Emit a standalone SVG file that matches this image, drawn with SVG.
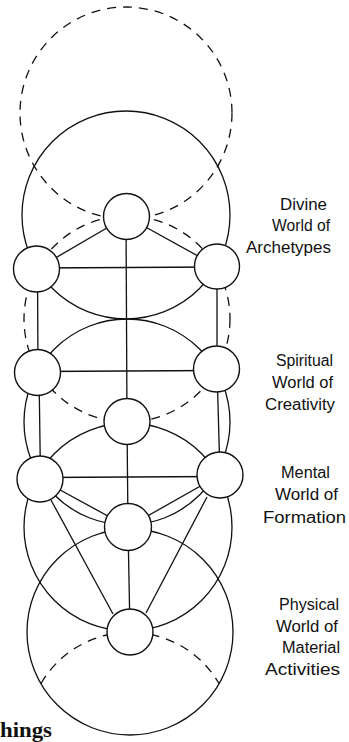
<svg xmlns="http://www.w3.org/2000/svg" width="349" height="742" viewBox="0 0 349 742">
<style>
.s{fill:none;stroke:#111;stroke-width:1.3}
.d{fill:none;stroke:#111;stroke-width:1.3;stroke-dasharray:9 7}
.n{fill:#fff;stroke:#111;stroke-width:1.4}
.l{font-family:"Liberation Sans",Arial,sans-serif;font-size:16px;fill:#111}
.t{font-family:"Liberation Serif","Times New Roman",serif;font-size:22px;font-weight:bold;fill:#111}
</style>
<rect width="349" height="742" fill="#fff"/>
<g id="world-circles">
<circle class="d" cx="126" cy="113" r="106"/>
<circle class="s" cx="126" cy="215" r="104"/>
<circle class="d" cx="127" cy="319" r="103"/>
<circle class="s" cx="127" cy="422" r="103"/>
<circle class="s" cx="128" cy="527" r="104"/>
<circle class="s" cx="130" cy="632" r="103"/>
<path class="d" d="M41,683.5 A103,103 0 0,1 219,683.5"/>
</g>
<g id="connectors" class="s">
<line x1="126.5" y1="216.5" x2="36.5" y2="269"/>
<line x1="126.5" y1="216.5" x2="217" y2="266.5"/>
<line x1="126" y1="216.5" x2="127" y2="421.5"/>
<line x1="36.5" y1="268" x2="217" y2="267"/>
<line x1="37.5" y1="269" x2="38" y2="372.5"/>
<line x1="217" y1="266.5" x2="217" y2="369"/>
<line x1="37.5" y1="371.5" x2="216.5" y2="370.5"/>
<line x1="39" y1="372.5" x2="40.5" y2="479"/>
<line x1="217" y1="369" x2="220" y2="475"/>
<line x1="40" y1="477.5" x2="220" y2="476.5"/>
<line x1="127" y1="421.5" x2="128" y2="527"/>
<line x1="40" y1="479" x2="128" y2="527"/>
<line x1="220" y1="475" x2="128" y2="527"/>
<line x1="51" y1="500" x2="113" y2="614"/>
<line x1="207" y1="497" x2="146" y2="613"/>
<line x1="128" y1="527" x2="130" y2="632"/>
</g>
<g id="keter"><circle class="n" cx="126.5" cy="216.5" r="23"/></g>
<g id="binah"><circle class="n" cx="36.5" cy="269" r="23"/></g>
<g id="chokmah"><circle class="n" cx="217" cy="266.5" r="22.5"/></g>
<g id="geburah"><circle class="n" cx="37.5" cy="372.5" r="23"/></g>
<g id="chesed"><circle class="n" cx="216.5" cy="369" r="23"/></g>
<g id="tiphareth"><circle class="n" cx="127" cy="421.5" r="23"/></g>
<g id="hod"><circle class="n" cx="40" cy="479" r="23"/></g>
<g id="netzach"><circle class="n" cx="220" cy="475" r="23"/></g>
<g id="yesod"><circle class="n" cx="128" cy="527" r="23.5"/></g>
<g id="malkuth"><circle class="n" cx="130" cy="632" r="23"/></g>
<g id="labels">
<text class="l" x="280" y="210" textLength="47" lengthAdjust="spacingAndGlyphs">Divine</text>
<text class="l" x="272" y="231" textLength="58" lengthAdjust="spacingAndGlyphs">World of</text>
<text class="l" x="246" y="253" textLength="85" lengthAdjust="spacingAndGlyphs">Archetypes</text>
<text class="l" x="276" y="366" textLength="57" lengthAdjust="spacingAndGlyphs">Spiritual</text>
<text class="l" x="272" y="388" textLength="61" lengthAdjust="spacingAndGlyphs">World of</text>
<text class="l" x="265" y="410" textLength="70" lengthAdjust="spacingAndGlyphs">Creativity</text>
<text class="l" x="281" y="478" textLength="49" lengthAdjust="spacingAndGlyphs">Mental</text>
<text class="l" x="275" y="500" textLength="63" lengthAdjust="spacingAndGlyphs">World of</text>
<text class="l" x="263" y="523" textLength="83" lengthAdjust="spacingAndGlyphs">Formation</text>
<text class="l" x="279" y="610" textLength="60" lengthAdjust="spacingAndGlyphs">Physical</text>
<text class="l" x="276" y="632" textLength="62" lengthAdjust="spacingAndGlyphs">World of</text>
<text class="l" x="282" y="653" textLength="58" lengthAdjust="spacingAndGlyphs">Material</text>
<text class="l" x="265" y="675" textLength="75" lengthAdjust="spacingAndGlyphs">Activities</text>
<text class="t" x="0" y="737" textLength="52" lengthAdjust="spacingAndGlyphs">hings</text>
</g>
</svg>
